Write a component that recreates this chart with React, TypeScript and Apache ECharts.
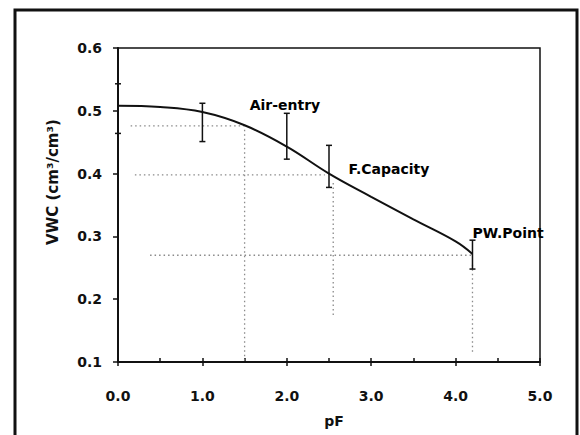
import React, { useEffect, useRef } from "react";
import * as echarts from "echarts";

// Fitted retention curve (pF vs VWC)
const curveX = [0, 0.5, 1.0, 1.5, 2.0, 2.5, 3.0, 3.5, 4.0, 4.2];
const curveY = [0.508, 0.506, 0.498, 0.477, 0.443, 0.4, 0.363, 0.327, 0.292, 0.272];

// Measured points' error bars
const errX = [0, 1.0, 2.0, 2.5, 4.2];
const errLow = [0.464, 0.451, 0.423, 0.378, 0.248];
const errHigh = [0.543, 0.512, 0.496, 0.445, 0.294];

// Characteristic points and their guide lines
const keyNames = ["Air-entry", "F.Capacity", "PW.Point"];
const keyX = [1.5, 2.55, 4.2];
const keyY = [0.476, 0.398, 0.27];
const guideStartX = [0.15, 0.2, 0.38];
const guideEndX = [1.5, 2.45, 4.2];
const guideTopY = [0.47, 0.385, 0.255];
const guideBottomY = [0.1, 0.17, 0.115];
const labelX = [1.56, 2.73, 4.2];
const labelY = [0.509, 0.407, 0.305];

const xTicks = ["0.0", "1.0", "2.0", "3.0", "4.0", "5.0"];
const yTicks = ["0.1", "0.2", "0.3", "0.4", "0.5", "0.6"];

const FONT = "DejaVu Sans";

export default function App() {
  const ref = useRef<HTMLDivElement>(null);
  useEffect(() => {
    if (!ref.current) return;
    const chart = echarts.init(ref.current, null, { renderer: "svg" });

    const guideSeries: any[] = [];
    keyNames.forEach((n, i) => {
      guideSeries.push({
        type: "line",
        name: n + "-h",
        data: [
          [guideStartX[i], keyY[i]],
          [guideEndX[i], keyY[i]],
        ],
        symbol: "none",
        lineStyle: { color: "#8a8a8a", width: 1.3, type: [1.5, 3] },
        z: 1,
      });
      guideSeries.push({
        type: "line",
        name: n + "-v",
        data: [
          [keyX[i], guideTopY[i]],
          [keyX[i], guideBottomY[i]],
        ],
        symbol: "none",
        lineStyle: { color: "#8a8a8a", width: 1.3, type: [1.5, 3] },
        z: 1,
      });
    });

    const option: any = {
      animation: false,
      backgroundColor: "#fff",
      grid: {
        left: 118,
        right: 40,
        top: 48,
        bottom: 73,
        show: true,
        borderColor: "#111",
        borderWidth: 1.5,
        backgroundColor: "transparent",
      },
      xAxis: [
        {
          type: "value",
          min: 0,
          max: 5,
          interval: 0.5,
          axisLine: { show: true, lineStyle: { color: "#111", width: 2 } },
          axisTick: { show: true, inside: true, length: 4, lineStyle: { color: "#111", width: 1.5 } },
          splitLine: { show: false },
          axisLabel: {
            margin: 27,
            color: "#111",
            fontFamily: FONT,
            fontWeight: "bold",
            fontSize: 14,
            formatter: (v: number) => {
              const idx = xTicks.indexOf(v.toFixed(1));
              return Number.isInteger(Math.round(v * 10) / 10) && idx >= 0 ? xTicks[idx] : "";
            },
          },
          name: "pF",
          nameLocation: "middle",
          nameGap: 52,
          nameTextStyle: { color: "#111", fontFamily: FONT, fontWeight: "bold", fontSize: 14, padding: [0, 0, 0, 10] },
        },
        {
          type: "value",
          min: 0,
          max: 5,
          interval: 1,
          position: "bottom",
          axisLine: { show: false },
          axisTick: { show: true, inside: false, length: 4, lineStyle: { color: "#111", width: 1.5 } },
          axisLabel: { show: false },
          splitLine: { show: false },
        },
      ],
      yAxis: {
        type: "value",
        min: 0.1,
        max: 0.6,
        interval: 0.1,
        axisLine: { show: true, lineStyle: { color: "#111", width: 2 } },
        axisTick: { show: true, inside: false, length: 5, lineStyle: { color: "#111", width: 1.5 } },
        splitLine: { show: false },
        axisLabel: {
          margin: 16,
          color: "#111",
          fontFamily: FONT,
          fontWeight: "bold",
          fontSize: 14,
          formatter: (v: number) => {
            const s = v.toFixed(1);
            return yTicks.indexOf(s) >= 0 ? s : "";
          },
        },
      },
      graphic: [
        {
          type: "rect",
          shape: { x: 15, y: 10, width: 562, height: 440 },
          style: { fill: "none", stroke: "#111", lineWidth: 3 },
          silent: true,
        },
        {
          type: "text",
          x: 53,
          y: 182,
          rotation: Math.PI / 2,
          style: {
            text: "VWC (cm³/cm³)",
            fill: "#111",
            font: `bold 15px "${FONT}"`,
            align: "center",
            verticalAlign: "middle",
          },
        },
      ],
      series: [
        ...guideSeries,
        {
          type: "line",
          name: "curve",
          data: curveX.map((x, i) => [x, curveY[i]]),
          smooth: 0.4,
          symbol: "none",
          lineStyle: { color: "#111", width: 2 },
          z: 3,
        },
        {
          type: "custom",
          name: "error",
          clip: false,
          data: errX.map((x, i) => [x, errLow[i], errHigh[i]]),
          renderItem: (params: any, api: any) => {
            const x = api.value(0);
            const lo = api.coord([x, api.value(1)]);
            const hi = api.coord([x, api.value(2)]);
            const cap = 3;
            const st = { stroke: "#111", lineWidth: 1.5 };
            return {
              type: "group",
              children: [
                { type: "line", shape: { x1: lo[0], y1: lo[1], x2: hi[0], y2: hi[1] }, style: st },
                { type: "line", shape: { x1: lo[0] - cap, y1: lo[1], x2: lo[0] + cap, y2: lo[1] }, style: st },
                { type: "line", shape: { x1: hi[0] - cap, y1: hi[1], x2: hi[0] + cap, y2: hi[1] }, style: st },
              ],
            };
          },
          z: 4,
        },
        {
          type: "scatter",
          name: "labels",
          symbolSize: 0,
          itemStyle: { opacity: 1, color: "#000" },
          data: keyNames.map((n, i) => ({ name: n, value: [labelX[i], labelY[i]] })),
          label: {
            show: true,
            position: "right",
            distance: 0,
            opacity: 1,
            formatter: (p: any) => p.name,
            color: "#000",
            fontFamily: FONT,
            fontSize: 14,
            fontWeight: "bold",
          },
          z: 5,
        },
      ],
    };
    chart.setOption(option);
    return () => chart.dispose();
  }, []);
  return (
    <div
      ref={ref}
      style={{ position: "fixed", left: 0, top: 0, width: 580, height: 435, background: "#fff" }}
    />
  );
}
